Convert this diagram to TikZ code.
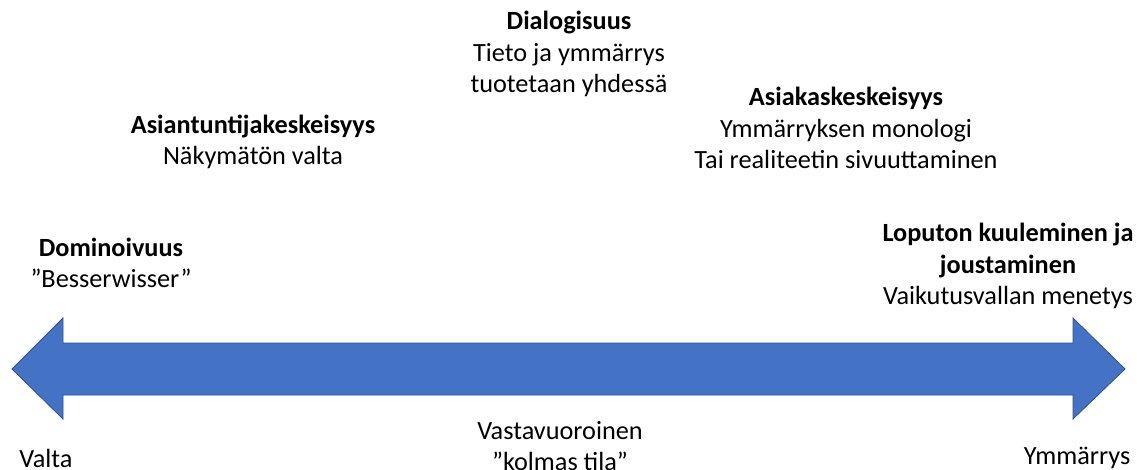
\documentclass[tikz,border=0pt]{standalone}
\usepackage{fontspec}
\setmainfont{Carlito}
\definecolor{arrowblue}{HTML}{4472C4}
\definecolor{arrowedge}{HTML}{2F528F}
\begin{document}
\begin{tikzpicture}[x=0.75pt,y=-0.75pt,
  lbl/.style={inner sep=0pt,align=center,font=\fontsize{19.7}{23.6}\selectfont},
  bigarrow/.style={fill=arrowblue,draw=arrowedge,line width=0.6pt,line join=miter}]
\useasboundingbox (0,0) rectangle (1137,470);
\draw[bigarrow] (12,369) -- (63,318) -- (63,343) -- (1073,343) -- (1073,318) -- (1125,369)
  -- (1073,419) -- (1073,395) -- (63,395) -- (63,419) -- cycle;
\node[lbl] (dial) at (569,54) {\textbf{Dialogisuus}\\Tieto ja ymmärrys\\tuotetaan yhdessä};
\node[lbl] (asiant) at (253,142) {\textbf{Asiantuntijakeskeisyys}\\Näkymätön valta};
\node[lbl] (asiak) at (846,128) {\textbf{Asiakaskeskeisyys}\\Ymmärryksen monologi\\Tai realiteetin sivuuttaminen};
\node[lbl] (domin) at (111,263) {\textbf{Dominoivuus}\\”Besserwisser”};
\node[lbl] (loput) at (1008,266) {\textbf{Loputon kuuleminen ja}\\\textbf{joustaminen}\\Vaikutusvallan menetys};
\node[lbl] (vasta) at (560,446) {Vastavuoroinen\\”kolmas tila”};
\node[lbl] (valta) at (46,458) {Valta};
\node[lbl] (ymm) at (1077,458) {Ymmärrys};
\end{tikzpicture}
\end{document}
